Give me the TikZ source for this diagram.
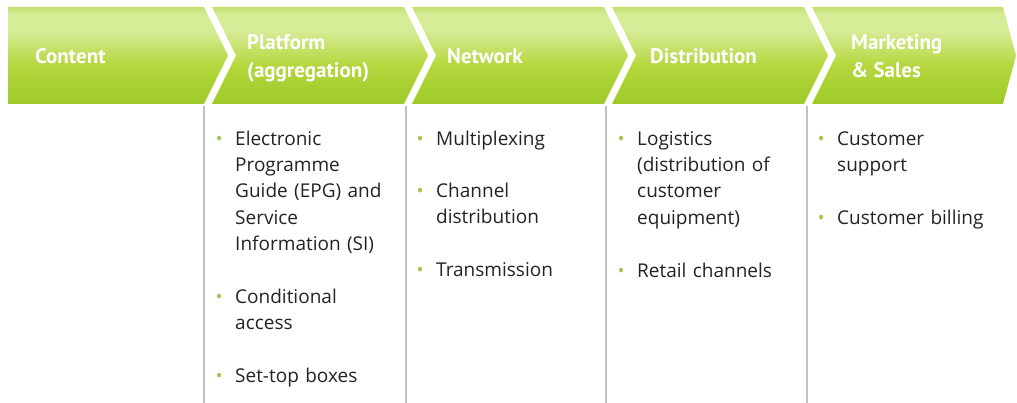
\documentclass[tikz,border=0pt]{standalone}
\usepackage{fontspec}
\setmainfont{PT Sans}
\newfontfamily\bodyfont{Open Sans}
\usepackage{tikz}
\usetikzlibrary{calc}
\definecolor{chevtop}{RGB}{196,224,112}
\definecolor{chevhi}{RGB}{214,236,150}
\definecolor{chevmid}{RGB}{180,215,62}
\definecolor{chevbot}{RGB}{158,202,40}
\definecolor{bulletgreen}{RGB}{160,200,80}
\definecolor{bodygray}{RGB}{35,35,35}
\definecolor{rulegray}{RGB}{192,192,192}
\pgfdeclareverticalshading{chevshade}{100bp}{color(0bp)=(chevbot); color(25bp)=(chevbot);
  color(45bp)=(chevmid); color(63bp)=(chevhi); color(71bp)=(chevhi); color(75bp)=(chevtop); color(100bp)=(chevtop)}
\tikzstyle{chevlabel}=[anchor=north west,align=left,inner sep=0pt,text=white,
                       font=\fontsize{21}{28}\selectfont\bfseries]
\tikzstyle{itemlist}=[anchor=north west,text width=200pt,inner sep=0pt,text=bodygray,
                      font=\bodyfont\fontsize{19}{26.3}\selectfont]
\tikzstyle{columnrule}=[draw=rulegray,line width=1.5pt]
\newcommand\colspacing{200}
\newcommand\chevron[1]{\shade[shading=chevshade] (#1+12,7) -- (#1+204,7) -- (#1+228,55.5)
  -- (#1+204,104) -- (#1+12,104) -- (#1+36,55.5) -- cycle;}
\newcommand\bitem[1]{\noindent\makebox[23pt][l]{\makebox[14pt][c]{\textcolor{bulletgreen}{\fontsize{19}{19}\selectfont\textbullet}}}%
  \parbox[t]{175pt}{\strut #1\strut}\par}
\newcommand\itemgap{\vspace{25.8pt}}

\begin{document}
\begin{tikzpicture}[x=1pt,y=-1pt]
    \useasboundingbox (0,0) rectangle (1017,403);
    % value chain
    \shade[shading=chevshade] (8,7) -- (204,7) -- (228,55.5) -- (204,104) -- (8,104) -- cycle;
    \chevron{\colspacing*1}
    \chevron{\colspacing*2}
    \chevron{\colspacing*3}
    \shade[shading=chevshade] (812,7) -- (1003,7) -- (1016,55.5) -- (1003,104) -- (812,104) -- (836,55.5) -- cycle;
    \node [chevlabel] (content) at ($(35,43.4)$) {\strut Content};
    \node [chevlabel] (platform) at ($(47+\colspacing*1,29.4)$) {\strut Platform\\(aggregation)};
    \node [chevlabel] (network) at ($(47+\colspacing*2,43.4)$) {\strut Network};
    \node [chevlabel] (distribution) at ($(50+\colspacing*3,43.4)$) {\strut Distribution};
    \node [chevlabel] (marketing) at ($(51+\colspacing*4,29.4)$) {\strut Marketing\\\& Sales};
    % column rules
    \draw [columnrule] (204,106) -- (204,403);
    \draw [columnrule] (406,106) -- (406,403);
    \draw [columnrule] (606,106) -- (606,403);
    \draw [columnrule] (807,106) -- (807,403);
    % activities
    \node [itemlist] (platformlist) at ($(212,126.6)$) {
        \bitem{Electronic\\Programme\\Guide (EPG) and\\Service\\Information (SI)}\itemgap
        \bitem{Conditional\\access}\itemgap
        \bitem{Set-top boxes}
    };
    \node [itemlist] (networklist) at ($(413,126.6)$) {
        \bitem{Multiplexing}\itemgap
        \bitem{Channel\\distribution}\itemgap
        \bitem{Transmission}
    };
    \node [itemlist] (distributionlist) at ($(614,126.6)$) {
        \bitem{Logistics\\(distribution of\\customer\\equipment)}\itemgap
        \bitem{Retail channels}
    };
    \node [itemlist] (marketinglist) at ($(814,126.6)$) {
        \bitem{Customer\\support}\itemgap
        \bitem{Customer billing}
    };
\end{tikzpicture}
\end{document}
